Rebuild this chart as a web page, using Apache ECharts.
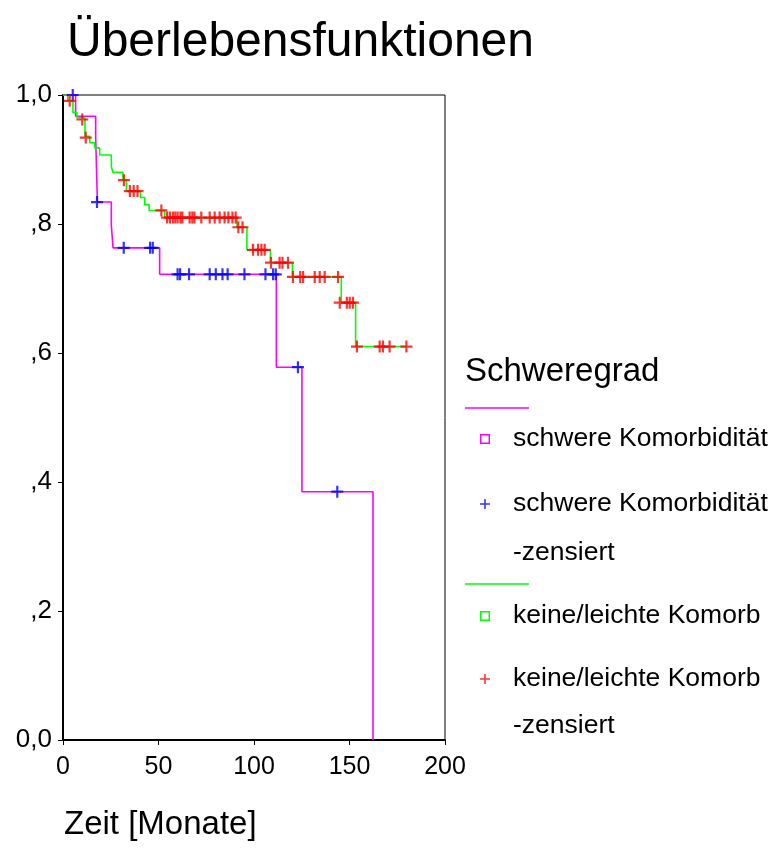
<!DOCTYPE html>
<html><head><meta charset="utf-8">
<script src="https://cdn.jsdelivr.net/npm/echarts@6/dist/echarts.min.js"></script>
<style>html,body{margin:0;padding:0;background:#fff}#c{width:776px;height:865px}</style>
</head><body><div id="c"></div>
<script>
// Schwere Komorbidität: survival step function (time in months, survival)
const severeTimes = [0, 6.6, 17.1, 18.0, 25.3, 26.2, 50.6, 111.7, 125.1, 162.3];
const severeSurv  = [1.0, 0.967, 0.935, 0.834, 0.798, 0.763, 0.722, 0.578, 0.385, 0.0];
// Schwere Komorbidität: censored
const severeCensTimes = [5.1, 17.8, 31.8, 45.6, 47.0, 60.0, 61.3, 66.0, 76.8, 80.0, 83.5, 86.2, 95.0, 106.0, 110.0, 111.4, 123.0, 143.6];
const severeCensSurv  = [1.0, 0.834, 0.763, 0.763, 0.763, 0.722, 0.722, 0.722, 0.722, 0.722, 0.722, 0.722, 0.722, 0.722, 0.722, 0.722, 0.578, 0.385];
// Keine/leichte Komorbidität: survival step function
const mildTimes = [0, 2.5, 5.2, 7.3, 11.5, 14.0, 16.6, 19.2, 25.3, 26.2, 31.4, 33.2, 40.5, 42.8, 45.1, 53.2, 91.1, 96.3, 108.6, 120.1, 145.7, 153.2, 180.0];
const mildSurv  = [1.0, 0.991, 0.973, 0.965, 0.936, 0.926, 0.918, 0.907, 0.889, 0.880, 0.868, 0.851, 0.841, 0.830, 0.821, 0.810, 0.795, 0.760, 0.740, 0.718, 0.678, 0.610, 0.610];
// Keine/leichte Komorbidität: censored
const mildCensTimes = [3.5, 10.1, 11.9, 31.9, 35.0, 37.0, 39.0, 51.5,
  54.5, 56.0, 57.6, 58.8, 60.0, 61.5, 62.5, 66.3, 67.7, 68.8, 72.4, 76.8, 79.4, 82.0, 84.6, 86.6, 88.7, 90.4,
  91.8, 94.0, 99.5, 102.1, 103.9, 105.6, 108.9, 113.4, 114.9, 117.8,
  120.4, 124.2, 125.7, 131.8, 134.4, 137.0, 144.0, 144.9, 148.6, 150.1, 151.8,
  153.9, 165.8, 167.5, 171.0, 179.8];
const mildCensSurv = [0.991, 0.962, 0.934, 0.868, 0.851, 0.851, 0.851, 0.821,
  0.810, 0.810, 0.810, 0.810, 0.810, 0.810, 0.810, 0.810, 0.810, 0.810, 0.810, 0.810, 0.810, 0.810, 0.810, 0.810, 0.810, 0.810,
  0.795, 0.795, 0.760, 0.760, 0.760, 0.760, 0.740, 0.740, 0.740, 0.740,
  0.718, 0.718, 0.718, 0.718, 0.718, 0.718, 0.718, 0.678, 0.678, 0.678, 0.678,
  0.610, 0.610, 0.610, 0.610, 0.610];
const xTickValues = [0, 50, 100, 150, 200];
const yTickLabels = {0: '0,0', 2: ',2', 4: ',4', 6: ',6', 8: ',8', 10: '1,0'};

const seriesNames = ['schwere Komorbidität', 'schwere Komorbidität -zensiert', 'keine/leichte Komorb', 'keine/leichte Komorb -zensiert'];

const zip = (a, b) => a.map((v, i) => [v, b[i]]);
const FONT = '"Liberation Sans", Arial, sans-serif';
const PLUS = 'path://M4.5,0h2v4.5h4.5v2h-4.5v4.5h-2v-4.5h-4.5v-2h4.5z';
const PLUS_THIN = 'path://M3.8,0h1.4v3.8h3.8v1.4h-3.8v3.8h-1.4v-3.8h-3.8v-1.4h3.8z';
const SQUARE = 'path://M0,0h9v9h-9z M1.3,1.3v6.4h6.4v-6.4z';

const chart = echarts.init(document.getElementById('c'), null, {renderer: 'canvas'});

function legendFor(name, icon, centerY) {
  return {
    show: true, orient: 'vertical', left: 480, top: centerY - 15, padding: 0,
    itemWidth: 46, itemHeight: 10, selectedMode: false,
    data: [{name: name, icon: icon}],
    formatter: n => n.replace(' -zensiert', ''),
    textStyle: {fontFamily: FONT, fontSize: 26.5, color: '#000', lineHeight: 30}
  };
}

chart.setOption({
  animation: false,
  backgroundColor: '#fff',
  title: {
    text: 'Überlebensfunktionen', left: 62, top: 14,
    textStyle: {fontFamily: FONT, fontSize: 48, fontWeight: 'normal', color: '#000'}
  },
  grid: {left: 63, right: 331, top: 95, bottom: 125, show: true, borderColor: '#000', borderWidth: 1, backgroundColor: 'transparent'},
  xAxis: {
    type: 'value', min: 0, max: 200, interval: 50,
    axisLine: {show: true, lineStyle: {color: '#000', width: 2}},
    axisTick: {show: true, length: 5, lineStyle: {color: '#000', width: 1}},
    axisLabel: {margin: 15, fontFamily: FONT, fontSize: 25, color: '#000',
      formatter: v => xTickValues.includes(v) ? String(v) : ''},
    splitLine: {show: false}
  },
  yAxis: {
    type: 'value', min: 0, max: 1, interval: 0.2,
    axisLine: {show: true, lineStyle: {color: '#000', width: 2}},
    axisTick: {show: true, length: 5, lineStyle: {color: '#000', width: 1}},
    axisLabel: {margin: 11, fontFamily: FONT, fontSize: 26, color: '#000',
      formatter: v => yTickLabels[Math.round(v * 10)] || ''},
    splitLine: {show: false}
  },
  legend: [
    legendFor(seriesNames[0], SQUARE, 439),
    legendFor(seriesNames[1], PLUS_THIN, 504),
    legendFor(seriesNames[2], SQUARE, 616),
    legendFor(seriesNames[3], PLUS_THIN, 679)
  ],
  graphic: [
    {type: 'text', left: 465, top: 355, style: {text: 'Schweregrad', fontFamily: FONT, fontSize: 33, fill: '#000'}},
    {type: 'line', shape: {x1: 465, y1: 408, x2: 529, y2: 408}, style: {stroke: '#ff00ff', lineWidth: 1.5}},
    {type: 'line', shape: {x1: 465, y1: 584, x2: 529, y2: 584}, style: {stroke: '#00ff00', lineWidth: 1.5}},
    {type: 'text', left: 513, top: 539, style: {text: '-zensiert', fontFamily: FONT, fontSize: 26.5, fill: '#000'}},
    {type: 'text', left: 513, top: 712, style: {text: '-zensiert', fontFamily: FONT, fontSize: 26.5, fill: '#000'}},
    {type: 'text', left: 64, top: 808, style: {text: 'Zeit [Monate]', fontFamily: FONT, fontSize: 33, fill: '#000'}}
  ],
  series: [
    {name: seriesNames[0], type: 'line', step: 'end', data: zip(severeTimes, severeSurv),
      showSymbol: false, color: '#ff00ff', lineStyle: {color: '#ff00ff', width: 1.6}, z: 2},
    {name: seriesNames[1], type: 'scatter', data: zip(severeCensTimes, severeCensSurv),
      symbol: PLUS, symbolSize: 12, color: '#0000ff', itemStyle: {color: '#0000ff'}, z: 4},
    {name: seriesNames[2], type: 'line', step: 'end', data: zip(mildTimes, mildSurv),
      showSymbol: false, color: '#00ff00', lineStyle: {color: '#00ff00', width: 1.6}, z: 3},
    {name: seriesNames[3], type: 'scatter', data: zip(mildCensTimes, mildCensSurv),
      symbol: PLUS, symbolSize: 12, color: '#ff0000', itemStyle: {color: '#ff0000'}, z: 5}
  ]
});
</script>
</body></html>
